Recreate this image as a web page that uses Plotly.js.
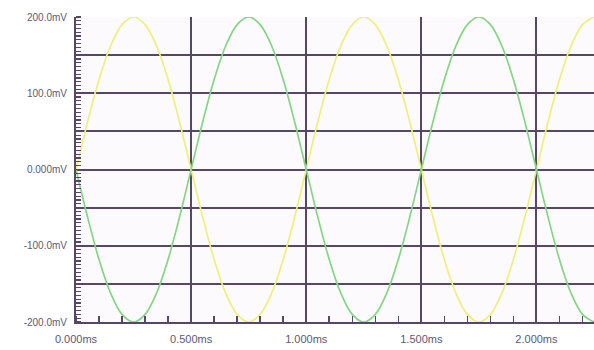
<!DOCTYPE html>
<html>
<head>
<meta charset="utf-8">
<script src="https://cdn.plot.ly/plotly-3.0.1.min.js"></script>
<style>html,body{margin:0;padding:0;background:#ffffff;}#chart{width:594px;height:350px;}</style>
</head>
<body>
<div id="chart"></div>
<script>
// Time samples (ms)
const timeMs = [0.00,0.05,0.10,0.15,0.20,0.25,0.30,0.35,0.40,0.45,
                0.50,0.55,0.60,0.65,0.70,0.75,0.80,0.85,0.90,0.95,
                1.00,1.05,1.10,1.15,1.20,1.25,1.30,1.35,1.40,1.45,
                1.50,1.55,1.60,1.65,1.70,1.75,1.80,1.85,1.90,1.95,
                2.00,2.05,2.10,2.15,2.20,2.25];
// Yellow channel (mV)
const yellowMv = [0,62,118,162,190,200,190,162,118,62,
                  0,-62,-118,-162,-190,-200,-190,-162,-118,-62,
                  0,62,118,162,190,200,190,162,118,62,
                  0,-62,-118,-162,-190,-200,-190,-162,-118,-62,
                  0,62,118,162,190,200];
// Green channel (mV)
const greenMv = [0,-62,-118,-162,-190,-200,-190,-162,-118,-62,
                 0,62,118,162,190,200,190,162,118,62,
                 0,-62,-118,-162,-190,-200,-190,-162,-118,-62,
                 0,62,118,162,190,200,190,162,118,62,
                 0,-62,-118,-162,-190,-200];
// Axis ticks
const xTickVals = [0,0.5,1.0,1.5,2.0];
const xTickText = ["0.000ms","0.500ms","1.000ms","1.500ms","2.000ms"];
const yTickVals = [-200,-150,-100,-50,0,50,100,150,200];
const yTickText = ["-200.0mV","","-100.0mV","","0.000mV","","100.0mV","","200.0mV"];

const gridColor = "#56466a";
const yLabelFont = {family: "Liberation Sans, Arial, sans-serif", size: 10, color: "#5a5a78"};
const xLabelFont = {family: "Liberation Sans, Arial, sans-serif", size: 11, color: "#5a5a78"};

const traces = [
  {x: timeMs, y: yellowMv, type: "scatter", mode: "lines",
   line: {color: "#eef07c", width: 1.7, shape: "spline"}, hoverinfo: "skip"},
  {x: timeMs, y: greenMv, type: "scatter", mode: "lines",
   line: {color: "#84d684", width: 1.7, shape: "spline"}, hoverinfo: "skip"}
];

const layout = {
  width: 594, height: 350,
  margin: {l: 76, r: 0, t: 17, b: 28, pad: 0},
  paper_bgcolor: "#ffffff",
  plot_bgcolor: "#fcfafd",
  showlegend: false,
  xaxis: {
    range: [0, 2.25], tickmode: "array", tickvals: xTickVals, ticktext: xTickText,
    showgrid: true, gridcolor: gridColor, gridwidth: 2,
    zeroline: false, showline: true, linecolor: gridColor, linewidth: 2,
    ticks: "", tickfont: xLabelFont, ticklabelstandoff: 6,
    minor: {dtick: 0.1, tick0: 0, ticks: "inside", ticklen: 6, tickwidth: 1.5, tickcolor: gridColor, showgrid: false}
  },
  yaxis: {
    range: [-200, 200], tickmode: "array", tickvals: yTickVals, ticktext: yTickText,
    showgrid: true, gridcolor: gridColor, gridwidth: 2,
    zeroline: false, showline: true, linecolor: gridColor, linewidth: 2,
    ticks: "", tickfont: yLabelFont, ticklabelstandoff: 5,
    minor: {dtick: 5, tick0: 0, ticks: "inside", ticklen: 5, tickwidth: 1.2, tickcolor: gridColor, showgrid: false}
  }
};

Plotly.newPlot("chart", traces, layout, {staticPlot: true, displayModeBar: false});
</script>
</body>
</html>
